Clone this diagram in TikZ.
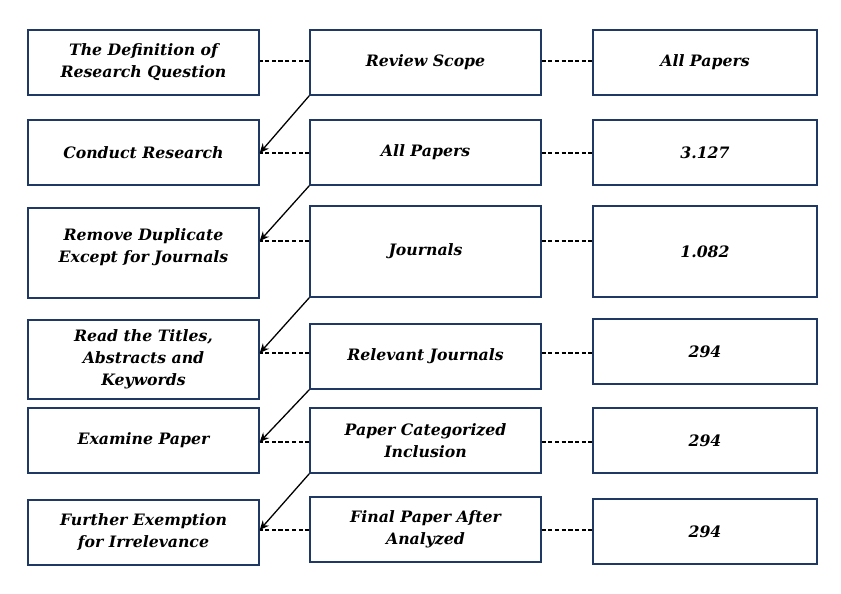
\documentclass[tikz,border=0pt]{standalone}
\usepackage{fontspec}
\setmainfont{DejaVu Serif}
\usetikzlibrary{arrows.meta}

\definecolor{boxline}{RGB}{31,56,100}

\tikzset{
  box/.style={draw=boxline, line width=1.2pt, inner sep=2pt, align=center,
    minimum width=6.93cm, minimum height=1.95cm,
    font=\fontsize{13.4}{18.8}\selectfont\bfseries\itshape},
  numbox/.style={box, minimum width=6.72cm},
  link/.style={dashed, dash pattern=on 3.5pt off 2.2pt, line width=0.9pt},
  flow/.style={-{Stealth[length=8pt,width=7pt]}, line width=1.1pt}
}

\begin{document}
\begin{tikzpicture}[x=0.03cm,y=-0.03cm]
  \useasboundingbox (0,0) rectangle (841,594);

  % steps
  \node[box] (L1) at (143.5,62.5) {The Definition of\\Research Question};
  \node[box] (L2) at (143.5,152.5) {Conduct Research};
  \node[box, minimum height=2.7cm] (L3) at (143.5,253) {Remove Duplicate\\Except for Journals\\[-6pt]\mbox{}};
  \node[box, minimum height=2.37cm] (L4) at (143.5,359.5) {Read the Titles,\\Abstracts and\\Keywords};
  \node[box] (L5) at (143.5,440.5) {Examine Paper};
  \node[box] (L6) at (143.5,532.5) {Further Exemption\\for Irrelevance};

  % sources
  \node[box] (M1) at (425.5,62.5) {Review Scope};
  \node[box] (M2) at (425.5,152.5) {All Papers};
  \node[box, minimum height=2.73cm] (M3) at (425.5,251.5) {Journals};
  \node[box] (M4) at (425.5,356.5) {Relevant Journals};
  \node[box] (M5) at (425.5,440.5) {Paper Categorized\\Inclusion};
  \node[box] (M6) at (425.5,529.5) {Final Paper After\\Analyzed};

  % counts
  \node[numbox] (R1) at (705,62.5) {All Papers};
  \node[numbox] (R2) at (705,152.5) {3.127};
  \node[numbox, minimum height=2.73cm] (R3) at (705,251.5) {1.082};
  \node[numbox] (R4) at (705,351.5) {294};
  \node[numbox] (R5) at (705,440.5) {294};
  \node[numbox] (R6) at (705,531.5) {294};

  \foreach \i/\y in {1/61,2/153,3/241,4/353,5/442,6/530}
  {
    \coordinate (a\i) at (L\i.east |- 0,\y);
    \draw [link] (M\i.west |- a\i) -- (a\i);
    \draw [link] (M\i.east |- a\i) -- (R\i.west |- a\i);
  }
  \foreach \i [evaluate=\i as \j using int(\i+1)] in {1,...,5}
    \draw [flow] (M\i.south west) -- (a\j);
\end{tikzpicture}
\end{document}
